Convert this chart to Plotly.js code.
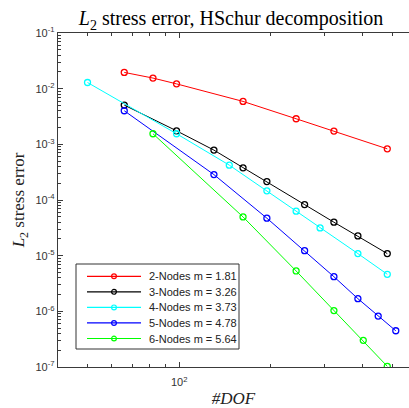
<!DOCTYPE html>
<html>
<head>
<meta charset="utf-8">
<script src="https://cdn.plot.ly/plotly-3.0.1.min.js"></script>
<style>html,body{margin:0;padding:0;overflow:hidden;background:#fff}</style>
</head>
<body>
<div id="chart" style="width:409px;height:408px"></div>
<script>
// Data
const seriesNames = ["2-Nodes m = 1.81", "3-Nodes m = 3.26", "4-Nodes m = 3.73", "5-Nodes m = 4.78", "6-Nodes m = 5.64"];
const seriesColors = ["#ff0000", "#000000", "#00ffff", "#0000ff", "#00ff00"];

const dof2 = [66, 82, 98, 162, 242, 322, 482];
const err2 = [0.0196, 0.0155, 0.0122, 0.0059, 0.00288, 0.00173, 0.00083];

const dof3 = [66, 98, 130, 162, 194, 258, 322, 386, 482];
const err3 = [0.00507, 0.00175, 0.000787, 0.000378, 0.000214, 8.27e-5, 3.99e-5, 2.26e-5, 1.09e-5];

const dof4 = [50, 98, 146, 194, 242, 290, 386, 482];
const err4 = [0.0129, 0.00155, 0.000423, 0.000146, 6.29e-5, 3.15e-5, 1.09e-5, 4.63e-6];

const dof5 = [66, 130, 194, 258, 322, 386, 450, 514];
const err5 = [0.00401, 0.000286, 4.71e-5, 1.23e-5, 4.19e-6, 1.69e-6, 8.23e-7, 4.48e-7];

const dof6 = [82, 162, 242, 322, 402, 482];
const err6 = [0.00155, 4.97e-5, 5.31e-6, 1.03e-6, 3.01e-7, 1.03e-7];

const xTickVals = [100];
const xTickText = ["10<sup>2</sup>"];
const xMinorVals = [40, 50, 60, 70, 80, 90, 200, 300, 400, 500];
const yExponents = [-1, -2, -3, -4, -5, -6, -7];

const allX = [dof2, dof3, dof4, dof5, dof6];
const allY = [err2, err3, err4, err5, err6];

const traces = allX.map((xs, i) => ({
  x: xs, y: allY[i], type: "scatter", mode: "lines+markers",
  name: seriesNames[i], showlegend: false,
  line: {color: seriesColors[i], width: 1},
  marker: {symbol: "circle-open", size: 6, color: seriesColors[i], line: {width: 1.3, color: seriesColors[i]}}
}));

const yTickVals = yExponents.map(e => Math.pow(10, e));
const yTickText = yExponents.map(e => "10<sup>" + e + "</sup>");
const yMinorVals = [];
for (let e = -7; e < -1; e++) for (let m = 2; m <= 9; m++) yMinorVals.push(m * Math.pow(10, e));

const axisColor = "#3a3a3a";
const tickFont = {family: "Liberation Sans, Arial, sans-serif", size: 11, color: "#333333"};

// Legend box (MATLAB-style, compact), laid out in pixels of the plot area
const M = {l: 58, r: 0, t: 33, b: 41};
const W = 409, H = 408;
const pw = W - M.l - M.r, ph = H - M.t - M.b;
const px = v => (v - M.l) / pw;
const py = v => 1 - (v - M.t) / ph;

const shapes = [];
const annotations = [];
shapes.push({type: "rect", xref: "paper", yref: "paper", x0: px(76), x1: px(239), y0: py(264), y1: py(349),
  line: {color: "#333333", width: 1}, fillcolor: "#ffffff", layer: "above"});
seriesNames.forEach((nm, i) => {
  const cy = 276.3 + 15.55 * i;
  shapes.push({type: "line", xref: "paper", yref: "paper", x0: px(87), x1: px(141), y0: py(cy), y1: py(cy),
    line: {color: seriesColors[i], width: 1.2}, layer: "above"});
  shapes.push({type: "circle", xref: "paper", yref: "paper", xsizemode: "pixel", ysizemode: "pixel",
    xanchor: px(114), yanchor: py(cy), x0: -2.4, x1: 2.4, y0: -2.4, y1: 2.4,
    line: {color: seriesColors[i], width: 1.2}, fillcolor: "rgba(0,0,0,0)", layer: "above"});
  annotations.push({xref: "paper", yref: "paper", x: px(146.5), y: py(cy), xanchor: "left", yanchor: "middle",
    text: nm, showarrow: false, font: {family: "Liberation Sans, Arial, sans-serif", size: 11, color: "#222"}});
});

const layout = {
  width: W, height: H,
  margin: M,
  paper_bgcolor: "#ffffff", plot_bgcolor: "#ffffff",
  showlegend: false,
  shapes: shapes, annotations: annotations,
  title: {
    text: "<i>L</i><sub>2</sub> stress error, HSchur decomposition",
    font: {family: "Liberation Serif, Times New Roman, serif", size: 20, color: "#000"},
    xref: "container", x: 0.565, xanchor: "center",
    yref: "container", y: 0.955, yanchor: "middle"
  },
  xaxis: {
    type: "log", range: [Math.log10(40), Math.log10(568)],
    tickmode: "array", tickvals: xTickVals, ticktext: xTickText,
    ticks: "inside", ticklen: 5, tickcolor: axisColor, tickwidth: 1,
    ticklabelstandoff: 5,
    minor: {tickmode: "array", tickvals: xMinorVals, ticks: "inside", ticklen: 3, tickcolor: axisColor, showgrid: false},
    showline: true, linecolor: axisColor, linewidth: 1.2, mirror: "ticks",
    showgrid: false, zeroline: false,
    tickfont: tickFont,
    title: {text: "<i>#DOF</i>", font: {family: "Liberation Serif, Times New Roman, serif", size: 17, color: "#222"}, standoff: 4}
  },
  yaxis: {
    type: "log", range: [-7, -1],
    tickmode: "array", tickvals: yTickVals, ticktext: yTickText,
    ticks: "inside", ticklen: 5, tickcolor: axisColor, tickwidth: 1,
    minor: {tickmode: "array", tickvals: yMinorVals, ticks: "inside", ticklen: 3, tickcolor: axisColor, showgrid: false},
    showline: true, linecolor: axisColor, linewidth: 1.2, mirror: false,
    showgrid: false, zeroline: false,
    tickfont: tickFont,
    title: {text: "<i>L</i><sub>2</sub> stress error", font: {family: "Liberation Serif, Times New Roman, serif", size: 17, color: "#222"}, standoff: 6}
  }
};

Plotly.newPlot("chart", traces, layout, {displayModeBar: false, staticPlot: true});
</script>
</body>
</html>
